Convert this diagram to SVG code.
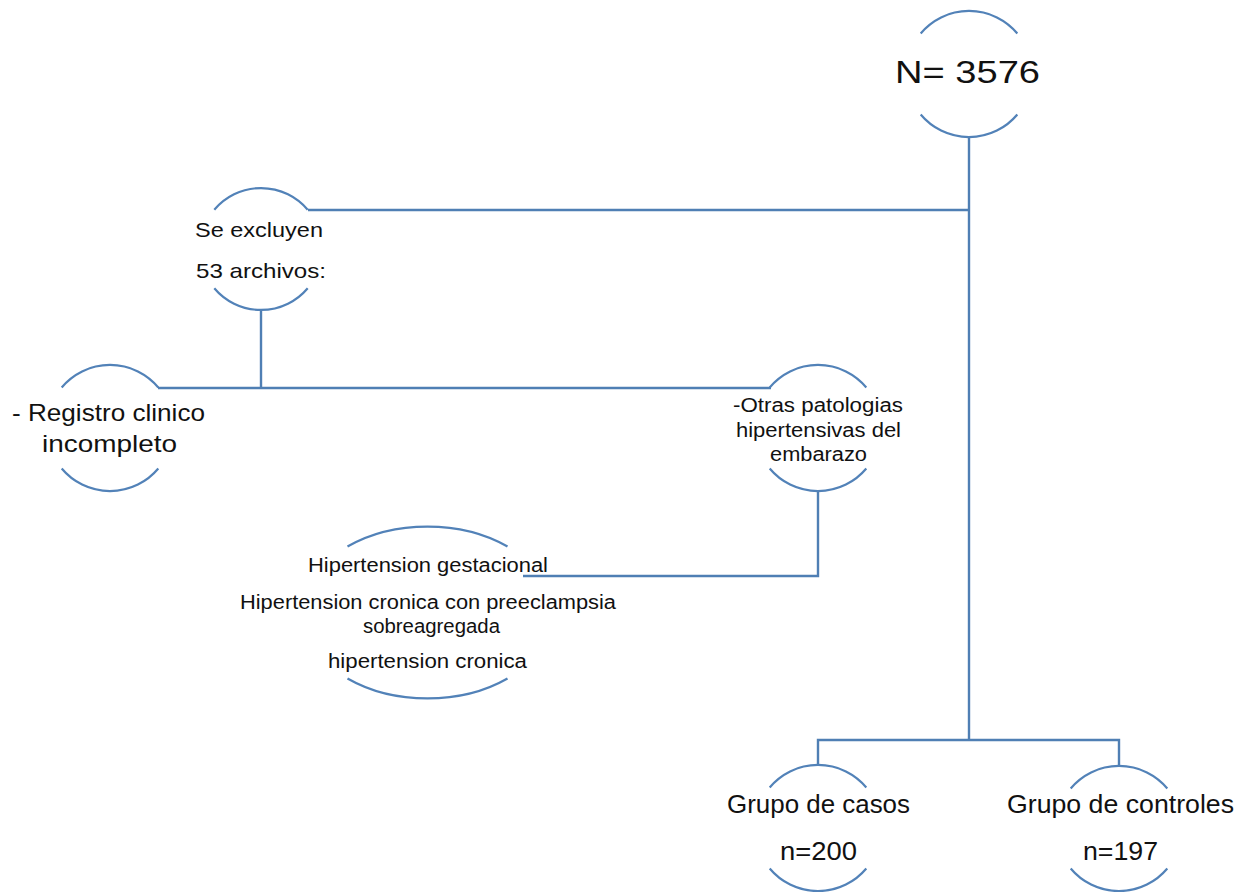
<svg xmlns="http://www.w3.org/2000/svg" width="1256" height="892" viewBox="0 0 1256 892">
<style>
.arc{fill:none;stroke:#5282b8;stroke-width:2.2}
.ln{fill:none;stroke:#4f7fb4;stroke-width:2.4}
text{font-family:"Liberation Sans",Arial,sans-serif;fill:#111;text-anchor:start}
.big{font-size:32px}
.mid{font-size:24px}
.sm{font-size:21px}
.xs{font-size:19.5px}
.grp{font-size:25px}
</style>
<rect width="1256" height="892" fill="#fff"/>
<g id="connectors">
<polyline class="ln" points="969,137 969,740"/>
<polyline class="ln" points="308,210 969,210"/>
<polyline class="ln" points="261,310 261,388"/>
<polyline class="ln" points="158,388 771,388"/>
<polyline class="ln" points="818,491 818,576 523,576"/>
<polyline class="ln" points="818,765 818,740 1119,740 1119,766"/>
</g>
<g id="n-total">
<path class="arc" d="M920.7,33.5 A63,63 0 0 1 1017.3,33.5"/>
<path class="arc" d="M920.7,114.5 A63,63 0 0 0 1017.3,114.5"/>
<text class="big" x="895" y="83" textLength="145" lengthAdjust="spacingAndGlyphs">N= 3576</text>
</g>
<g id="excluyen">
<path class="arc" d="M214.3,209.8 A61,61 0 0 1 307.7,209.8"/>
<path class="arc" d="M214.3,288.2 A61,61 0 0 0 307.7,288.2"/>
<text class="sm" x="195" y="237" textLength="128" lengthAdjust="spacingAndGlyphs">Se excluyen</text>
<text class="sm" x="196" y="278" textLength="130" lengthAdjust="spacingAndGlyphs">53 archivos:</text>
</g>
<g id="registro">
<path class="arc" d="M61.7,387.5 A63,63 0 0 1 158.3,387.5"/>
<path class="arc" d="M61.7,468.5 A63,63 0 0 0 158.3,468.5"/>
<text class="mid" x="12" y="421" textLength="193" lengthAdjust="spacingAndGlyphs">- Registro clinico</text>
<text class="mid" x="42" y="452" textLength="135" lengthAdjust="spacingAndGlyphs">incompleto</text>
</g>
<g id="otras">
<path class="arc" d="M769.7,387.5 A63,63 0 0 1 866.3,387.5"/>
<path class="arc" d="M769.7,468.5 A63,63 0 0 0 866.3,468.5"/>
<text class="xs" x="733" y="412" textLength="170" lengthAdjust="spacingAndGlyphs">-Otras patologias</text>
<text class="xs" x="736" y="437" textLength="165" lengthAdjust="spacingAndGlyphs">hipertensivas del</text>
<text class="xs" x="770" y="461" textLength="97" lengthAdjust="spacingAndGlyphs">embarazo</text>
</g>
<g id="hipertension">
<path class="arc" d="M347.5,546.5 A125,86 0 0 1 507.5,546.5"/>
<path class="arc" d="M347.5,678.5 A125,86 0 0 0 507.5,678.5"/>
<text class="xs" x="308" y="572" textLength="240" lengthAdjust="spacingAndGlyphs">Hipertension gestacional</text>
<text class="xs" x="240" y="609" textLength="376" lengthAdjust="spacingAndGlyphs">Hipertension cronica con preeclampsia</text>
<text class="xs" x="363" y="633" textLength="137" lengthAdjust="spacingAndGlyphs">sobreagregada</text>
<text class="xs" x="328" y="668" textLength="199" lengthAdjust="spacingAndGlyphs">hipertension cronica</text>
</g>
<g id="casos">
<path class="arc" d="M769.7,787.5 A63,63 0 0 1 866.3,787.5"/>
<path class="arc" d="M769.7,868.5 A63,63 0 0 0 866.3,868.5"/>
<text class="grp" x="727" y="813" textLength="183" lengthAdjust="spacingAndGlyphs">Grupo de casos</text>
<text class="grp" x="780" y="860" textLength="77" lengthAdjust="spacingAndGlyphs">n=200</text>
</g>
<g id="controles">
<path class="arc" d="M1070.7,788.5 A63,63 0 0 1 1167.3,788.5"/>
<path class="arc" d="M1070.7,868.5 A63,63 0 0 0 1167.3,868.5"/>
<text class="grp" x="1007" y="813" textLength="227" lengthAdjust="spacingAndGlyphs">Grupo de controles</text>
<text class="grp" x="1083" y="860" textLength="75" lengthAdjust="spacingAndGlyphs">n=197</text>
</g>
</svg>
